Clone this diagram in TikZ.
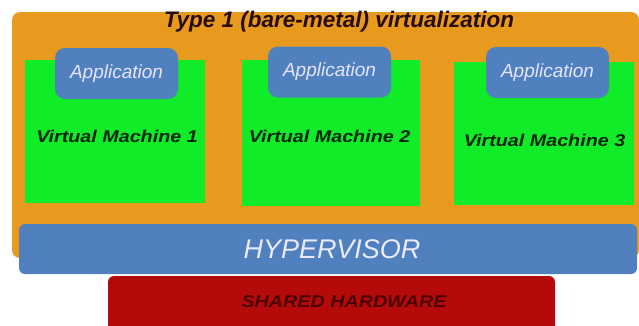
\documentclass[tikz,border=0pt]{standalone}
\usepackage{fontspec}
\setmainfont{Liberation Sans}
\newfontfamily\widesans[FakeStretch=1.16]{Liberation Sans}
\usepackage{tikz}
\usetikzlibrary{positioning}
\definecolor{hostorange}{RGB}{232, 154, 30}
\definecolor{vmgreen}{RGB}{16, 236, 40}
\definecolor{appblue}{RGB}{80, 128, 190}
\definecolor{hwred}{RGB}{180, 10, 10}
\definecolor{titleink}{RGB}{40, 12, 12}
\tikzset{
  host/.style={
    fill=hostorange,
    rounded corners=8pt,
    inner sep=0pt
  },
  vm/.style={
    fill=vmgreen,
    inner sep=0pt
  },
  vmlabel/.style={
    inner sep=0pt,
    font=\widesans\fontsize{17}{20}\selectfont\bfseries\itshape\color{black!85!green}
  },
  app/.style={
    fill=appblue,
    rounded corners=10pt,
    minimum width=123pt,
    minimum height=51pt,
    inner sep=0pt,
    font=\fontsize{19}{22}\selectfont\itshape\color{white!90!blue}
  },
  layer/.style={
    rounded corners=6pt,
    inner sep=0pt
  }
}

\begin{document}
\begin{tikzpicture}[x=1pt, y=-1pt]
          \useasboundingbox (0,0) rectangle (639,325);
          \node[host, minimum width=627pt, minimum height=246pt] (host) at (325.5,135) {};
          \node[font=\fontsize{22.5}{26}\selectfont\bfseries\itshape\color{titleink}] (title) at (339,22) {Type 1 (bare-metal) virtualization};

          \node[vm, minimum width=180pt, minimum height=143pt] (vm1) at (115,131.5) {};
          \node[vm, minimum width=178pt, minimum height=146pt] (vm2) at (331,133) {};
          \node[vm, minimum width=180pt, minimum height=143pt] (vm3) at (544,133.5) {};
          \node[vmlabel] (vm1lbl) at (117,136) {Virtual Machine 1};
          \node[vmlabel] (vm2lbl) at (329.5,136) {Virtual Machine 2};
          \node[vmlabel] (vm3lbl) at (544.5,140) {Virtual Machine 3};

          \node[app] (app1) at (116.5,73.5) {Application};
          \node[app] (app2) at (329.5,72) {Application};
          \node[app] (app3) at (547.5,72.5) {Application};

          \node[layer, fill=appblue, minimum width=618pt, minimum height=50pt] (hyper) at (328,249) {};
          \node[font=\fontsize{27}{30}\selectfont\itshape\color{white!92!blue}] (hypertext) at (332,249) {HYPERVISOR};
          \node[layer, fill=hwred, minimum width=447pt, minimum height=56pt] (hw) at (331.5,304) {};
          \node[font=\widesans\fontsize{17}{20}\selectfont\bfseries\itshape\color{black!70!red}] (hwtext) at (344,302) {SHARED HARDWARE};
        \end{tikzpicture}
\end{document}
